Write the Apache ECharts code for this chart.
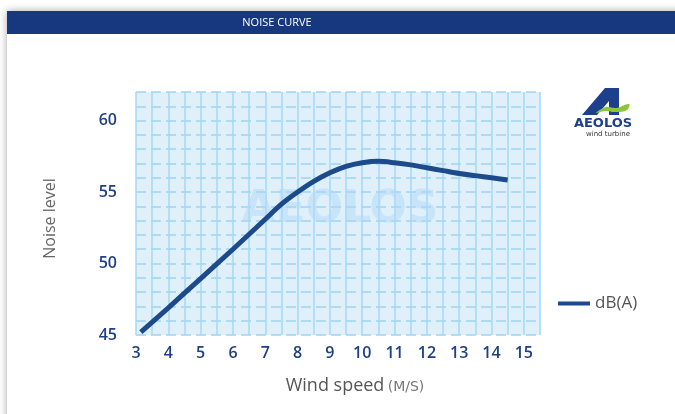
<!DOCTYPE html>
<html><head><meta charset="utf-8">
<script src="https://cdn.jsdelivr.net/npm/echarts@6/dist/echarts.min.js"></script>
<style>html,body{margin:0;padding:0;background:#fff;}#c{width:675px;height:414px;}</style>
</head><body><div id="c"></div>
<script>
const windSpeed = [3.15, 4, 5, 6, 7, 7.5, 8, 8.5, 9, 9.5, 10, 10.5, 11, 11.5, 12, 12.5, 13, 13.5, 14, 14.5];
const noiseDb   = [45.2, 46.9, 48.95, 51.0, 53.1, 54.15, 55.0, 55.75, 56.35, 56.8, 57.05, 57.15, 57.05, 56.9, 56.7, 56.5, 56.3, 56.15, 56.0, 55.85];
const seriesName = 'dB(A)';
const titleText = 'NOISE CURVE';
const xName = 'Wind speed';
const xUnit = '(M/S)';
const yName = 'Noise level';

const chart = echarts.init(document.getElementById('c'));
chart.setOption({
  animation: false,
  graphic: [
    {type:'rect', z:-10, shape:{x:7,y:11,width:680,height:420}, style:{fill:'#fff', shadowBlur:8, shadowColor:'rgba(0,0,0,0.35)', shadowOffsetX:0, shadowOffsetY:0}},
    {type:'rect', z:-9, shape:{x:7,y:11,width:670,height:23}, style:{fill:'#17387f'}},
    {type:'text', z:-8, style:{text:titleText, x:277, y:23, textAlign:'center', textVerticalAlign:'middle', fill:'#fff', font:'11px "Open Sans", sans-serif'}},
    {type:'text', z:1, style:{text:'AEOLOS', x:340, y:211, textAlign:'center', textVerticalAlign:'middle', fill:'rgba(175,215,248,0.5)', font:'bold 44px "DejaVu Sans", sans-serif'}},
    {type:'polygon', z:5, shape:{points:[[582,115],[605,88],[619,88],[619,115],[609,115],[609,101],[597,115]]}, style:{fill:'#1d3f8c'}},
    {type:'polygon', z:6, shape:{smooth:0.4, points:[[596,113],[606,107],[616,108],[629,104],[627,110],[616,112],[605,111]]}, style:{fill:'#8cc63f'}},
    {type:'text', z:5, style:{text:'AEOLOS', x:603, y:124, textAlign:'center', textVerticalAlign:'middle', fill:'#1d3f8c', font:'bold 13px "DejaVu Sans", sans-serif'}},
    {type:'text', z:5, style:{text:'wind turbine', x:608, y:134, textAlign:'center', textVerticalAlign:'middle', fill:'#333', font:'7px "DejaVu Sans", sans-serif'}}
  ],
  legend: {
    data:[seriesName], orient:'vertical', left:553, top:290,
    itemWidth:32, itemHeight:4, itemGap:8,
    icon:'rect',
    textStyle:{color:'#555', fontSize:17, fontFamily:'"Open Sans", sans-serif'}
  },
  grid: {left:136, right:135, top:92, bottom:79, show:true, backgroundColor:'#dff0fb', borderWidth:0},
  xAxis: {
    type:'value', min:3, max:15.5, interval:0.5,
    name:`{a|${xName}} {b|${xUnit}}`, nameLocation:'middle', nameGap:42,
    nameTextStyle:{padding:[0,0,0,34], rich:{
      a:{color:'#555', fontSize:18, fontFamily:'"Open Sans", sans-serif'},
      b:{color:'#777', fontSize:14, fontFamily:'"DejaVu Sans", sans-serif', padding:[2,0,0,0]}
    }},
    axisLine:{show:false}, axisTick:{show:false},
    axisLabel:{color:'#1f3f86', fontSize:16, fontWeight:600, margin:10, fontFamily:'"Open Sans", sans-serif',
      formatter:v => (Math.abs(v - Math.round(v)) < 1e-6 && v <= 15) ? String(Math.round(v)) : ''},
    splitLine:{show:true, lineStyle:{color:'#a4d8f5', width:1.5, type:'solid'}}
  },
  yAxis: {
    type:'value', min:45, max:62, interval:1,
    name:yName, nameLocation:'middle', nameGap:78, nameRotate:90,
    nameTextStyle:{color:'#666', fontSize:16, fontFamily:'"Open Sans", sans-serif', padding:[0,10,0,0]},
    axisLine:{show:false}, axisTick:{show:false},
    axisLabel:{color:'#1f3f86', fontSize:16, fontWeight:600, margin:19, fontFamily:'"Open Sans", sans-serif',
      formatter:v => (v % 5 === 0) ? String(v) : ''},
    splitLine:{show:true, lineStyle:{color:'#9dd3f3', width:1.5, type:[10,5]}}
  },
  series: [{
    name:seriesName, type:'line', smooth:0.3, showSymbol:false, symbol:'none',
    data: windSpeed.map((x,i)=>[x, noiseDb[i]]),
    lineStyle:{color:'#1d4a8a', width:5},
    itemStyle:{color:'#1d4a8a'},
    z:3
  }]
});
</script></body></html>
